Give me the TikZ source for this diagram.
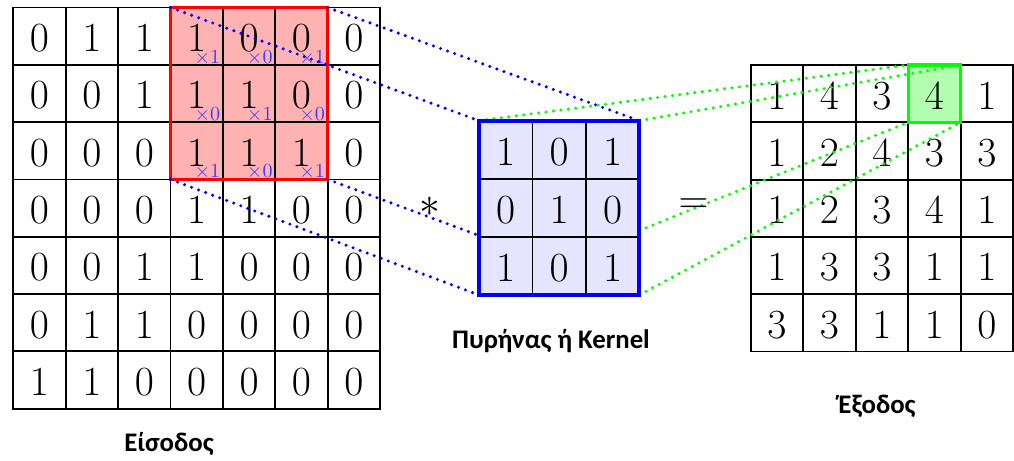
\documentclass[tikz,border=0pt]{standalone}
\usepackage{fontspec}
\newfontfamily\lblfont{Carlito}
\newcommand\dgtfont{\fontsize{21.5}{24}\selectfont}
\newcommand\multfont{\fontsize{10}{11}\selectfont}
\definecolor{multblue}{RGB}{60,60,255}
\pgfdeclarelayer{front}
\pgfsetlayers{main,front}
\tikzset{
  cellbox/.style={draw=black, line width=0.9pt, inner sep=0pt, outer sep=0pt,
    minimum width=#1},
  incell/.style={cellbox=26.2pt, minimum height=28.65pt},
  outcell/.style={cellbox=26.25pt, minimum height=28.65pt},
  kcell/.style={cellbox=26.7pt, minimum height=29.05pt},
  digit/.style={inner sep=0pt, font=\dgtfont, yshift=-1pt},
  mult/.style={inner sep=0pt, anchor=base east, font=\multfont, text=multblue},
  redfill/.style={fill=red!30, draw=none, inner sep=0pt, outer sep=0pt,
    minimum width=78.6pt, minimum height=85.95pt},
  greenfill/.style={fill=green!30, draw=none, inner sep=0pt, outer sep=0pt,
    minimum width=26.25pt, minimum height=28.65pt},
  kernfill/.style={fill=blue!10, draw=none, inner sep=0pt, outer sep=0pt,
    minimum width=80.15pt, minimum height=87.15pt},
  redline/.style={draw=red, line width=1.65pt},
  greenline/.style={draw=green, line width=1.65pt},
  blueline/.style={draw=blue, line width=2pt},
  bdot/.style={draw=blue, line width=1.7pt, line cap=round, dash pattern=on 0pt off 3.75pt},
  gdot/.style={draw=green, line width=1.7pt, line cap=round, dash pattern=on 0pt off 3.75pt},
  sym/.style={inner sep=0pt, font=\dgtfont},
  lbl/.style={inner sep=0pt, anchor=base, font=\lblfont\bfseries\fontsize{13.4}{15}\selectfont}
}
\begin{document}
\begin{tikzpicture}[x=0.5pt,y=-0.5pt]
\useasboundingbox (0,0) rectangle (1014,461);
% ---------- input ----------
\node[redfill] (rbox) at (249.1,93.45) {};
\foreach \row [count=\i from 0] in {{0,1,1,1,0,0,0},{0,0,1,1,1,0,0},{0,0,0,1,1,1,0},{0,0,0,1,1,0,0},{0,0,1,1,0,0,0},{0,1,1,0,0,0,0},{1,1,0,0,0,0,0}}{
  \foreach \v [count=\j from 0] in \row {
    \node[incell] (in-\i-\j) at ({13.3+52.4*(\j+0.5)},{7.5+57.3*(\i+0.5)}) {};
    \node[digit] (inv-\i-\j) at (in-\i-\j.center) {$\v$};
  }
}
\draw[redline] (rbox.north west) rectangle (rbox.south east);
\foreach \m [count=\k from 0] in {1,0,1,0,1,0,1,0,1}{
  \pgfmathtruncatemacro\r{div(\k,3)}
  \pgfmathtruncatemacro\c{mod(\k,3)+3}
  \node[mult] (m-\k) at ([xshift=-1.2pt,yshift=0.9pt]in-\r-\c.south east) {$\times\m$};
}
% ---------- output ----------
\node[greenfill] (gbox) at (934.45,93.65) {};
\foreach \row [count=\i from 0] in {{1,4,3,4,1},{1,2,4,3,3},{1,2,3,4,1},{1,3,3,1,1},{3,3,1,1,0}}{
  \foreach \v [count=\j from 0] in \row {
    \node[outcell] (out-\i-\j) at ({750.7+52.5*(\j+0.5)},{65+57.3*(\i+0.5)}) {};
    \node[digit] (outv-\i-\j) at (out-\i-\j.center) {$\v$};
  }
}
\draw[greenline] (gbox.north west) rectangle (gbox.south east);
% ---------- kernel (front layer) ----------
\begin{pgfonlayer}{front}
\node[kernfill] (kern) at (559.15,207.85) {};
\foreach \row [count=\i from 0] in {{1,0,1},{0,1,0},{1,0,1}}{
  \foreach \v [count=\j from 0] in \row {
    \node[kcell] (k-\i-\j) at ({479+53.43*(\j+0.5)},{120.7+58.1*(\i+0.5)}) {};
    \node[digit] (kv-\i-\j) at (k-\i-\j.center) {$\v$};
  }
}
\draw[blueline] (kern.north west) rectangle (kern.south east);
\end{pgfonlayer}
% ---------- dotted connectors ----------
\draw[bdot] (rbox.north west) -- (kern.north west);
\draw[bdot] (rbox.north east) -- (kern.north east);
\draw[bdot] (rbox.south west) -- (kern.south west);
\draw[bdot] (rbox.south east) -- (kern.south east);
\draw[gdot] (kern.north west) -- (gbox.north west);
\draw[gdot] (kern.north east) -- (gbox.north east);
\draw[gdot] (kern.south west) -- (gbox.south west);
\draw[gdot] (kern.south east) -- (gbox.south east);
% ---------- operators and labels ----------
\node[sym] (ast) at (430,207) {$*$};
\node[sym] (eq) at (693.5,206) {$=$};
\node[lbl] (lin) at (169,451.7) {Είσοδος};
\node[lbl] (lkern) at (551,348.3) {Πυρήνας ή Kernel};
\node[lbl] (lout) at (877,413) {Έξοδος};
\end{tikzpicture}
\end{document}
